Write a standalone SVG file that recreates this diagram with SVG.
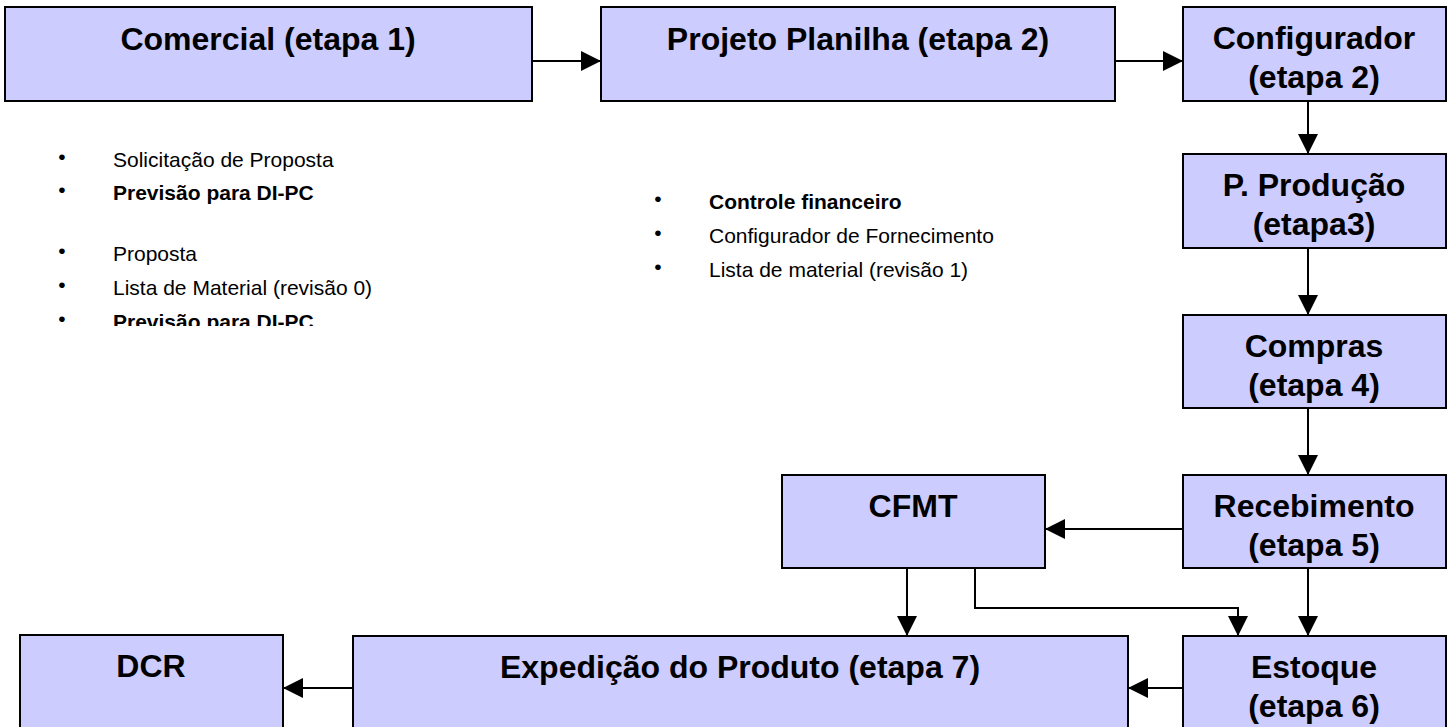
<svg xmlns="http://www.w3.org/2000/svg" width="1456" height="727" viewBox="0 0 1456 727">
<defs>
<style>
.box{fill:#CCCCFF;stroke:#000;stroke-width:2}
.t{font-family:"Liberation Sans",Arial,sans-serif;font-weight:bold;font-size:32px;fill:#000;text-anchor:middle}
.b{font-family:"Liberation Sans",Arial,sans-serif;font-size:21px;fill:#000}
.bb{font-family:"Liberation Sans",Arial,sans-serif;font-size:21px;font-weight:bold;fill:#000}
.dot{font-family:"Liberation Sans",Arial,sans-serif;font-size:21px;fill:#000;text-anchor:middle}
.c{fill:none;stroke:#000;stroke-width:2}
</style>
<marker id="ah" markerUnits="userSpaceOnUse" markerWidth="20" markerHeight="20" refX="20" refY="10" orient="auto">
<path d="M0,0 L20,10 L0,20 z" fill="#000"/>
</marker>
<clipPath id="clipL"><rect x="0" y="130" width="600" height="196"/></clipPath>
</defs>
<g id="connectors">
<line class="c" x1="532" y1="61" x2="601" y2="61" marker-end="url(#ah)"/>
<line class="c" x1="1115" y1="61" x2="1183" y2="61" marker-end="url(#ah)"/>
<line class="c" x1="1308" y1="101" x2="1308" y2="154" marker-end="url(#ah)"/>
<line class="c" x1="1308" y1="248" x2="1308" y2="315" marker-end="url(#ah)"/>
<line class="c" x1="1308" y1="408" x2="1308" y2="475" marker-end="url(#ah)"/>
<line class="c" x1="1183" y1="529" x2="1045" y2="529" marker-end="url(#ah)"/>
<line class="c" x1="1308" y1="568" x2="1308" y2="636" marker-end="url(#ah)"/>
<line class="c" x1="907" y1="568" x2="907" y2="636" marker-end="url(#ah)"/>
<polyline class="c" points="975,568 975,608 1238,608 1238,636" marker-end="url(#ah)"/>
<line class="c" x1="1183" y1="688" x2="1128" y2="688" marker-end="url(#ah)"/>
<line class="c" x1="353" y1="688" x2="283" y2="688" marker-end="url(#ah)"/>
</g>
<g id="comercial"><rect class="box" x="5" y="7" width="527" height="94"/><text class="t" x="268" y="50">Comercial (etapa 1)</text></g>
<g id="projeto"><rect class="box" x="601" y="7" width="514" height="94"/><text class="t" x="858" y="50">Projeto Planilha (etapa 2)</text></g>
<g id="configurador"><rect class="box" x="1183" y="7" width="263" height="94"/><text class="t" x="1314" y="49">Configurador</text><text class="t" x="1314" y="88">(etapa 2)</text></g>
<g id="producao"><rect class="box" x="1183" y="154" width="263" height="94"/><text class="t" x="1314" y="196">P. Produção</text><text class="t" x="1314" y="235">(etapa3)</text></g>
<g id="compras"><rect class="box" x="1183" y="315" width="263" height="93"/><text class="t" x="1314" y="357">Compras</text><text class="t" x="1314" y="396">(etapa 4)</text></g>
<g id="recebimento"><rect class="box" x="1183" y="475" width="263" height="93"/><text class="t" x="1314" y="517">Recebimento</text><text class="t" x="1314" y="556">(etapa 5)</text></g>
<g id="cfmt"><rect class="box" x="782" y="475" width="263" height="93"/><text class="t" x="913" y="517">CFMT</text></g>
<g id="estoque"><rect class="box" x="1183" y="636" width="263" height="93"/><text class="t" x="1314" y="678">Estoque</text><text class="t" x="1314" y="717">(etapa 6)</text></g>
<g id="expedicao"><rect class="box" x="353" y="636" width="775" height="93"/><text class="t" x="740" y="678">Expedição do Produto (etapa 7)</text></g>
<g id="dcr"><rect class="box" x="20" y="635" width="263" height="93"/><text class="t" x="151" y="677">DCR</text></g>
<g id="notes-left" clip-path="url(#clipL)">
<text class="dot" x="62" y="164">•</text><text class="b" x="113" y="167">Solicitação de Proposta</text>
<text class="dot" x="62" y="197">•</text><text class="bb" x="113" y="200">Previsão para DI-PC</text>
<text class="dot" x="62" y="258">•</text><text class="b" x="113" y="261">Proposta</text>
<text class="dot" x="62" y="292">•</text><text class="b" x="113" y="295">Lista de Material (revisão 0)</text>
<text class="dot" x="62" y="326">•</text><text class="bb" x="113" y="329">Previsão para DI-PC</text>
</g>
<g id="notes-middle">
<text class="dot" x="658" y="206">•</text><text class="bb" x="709" y="209">Controle financeiro</text>
<text class="dot" x="658" y="240">•</text><text class="b" x="709" y="243">Configurador de Fornecimento</text>
<text class="dot" x="658" y="274">•</text><text class="b" x="709" y="277">Lista de material (revisão 1)</text>
</g>
</svg>
